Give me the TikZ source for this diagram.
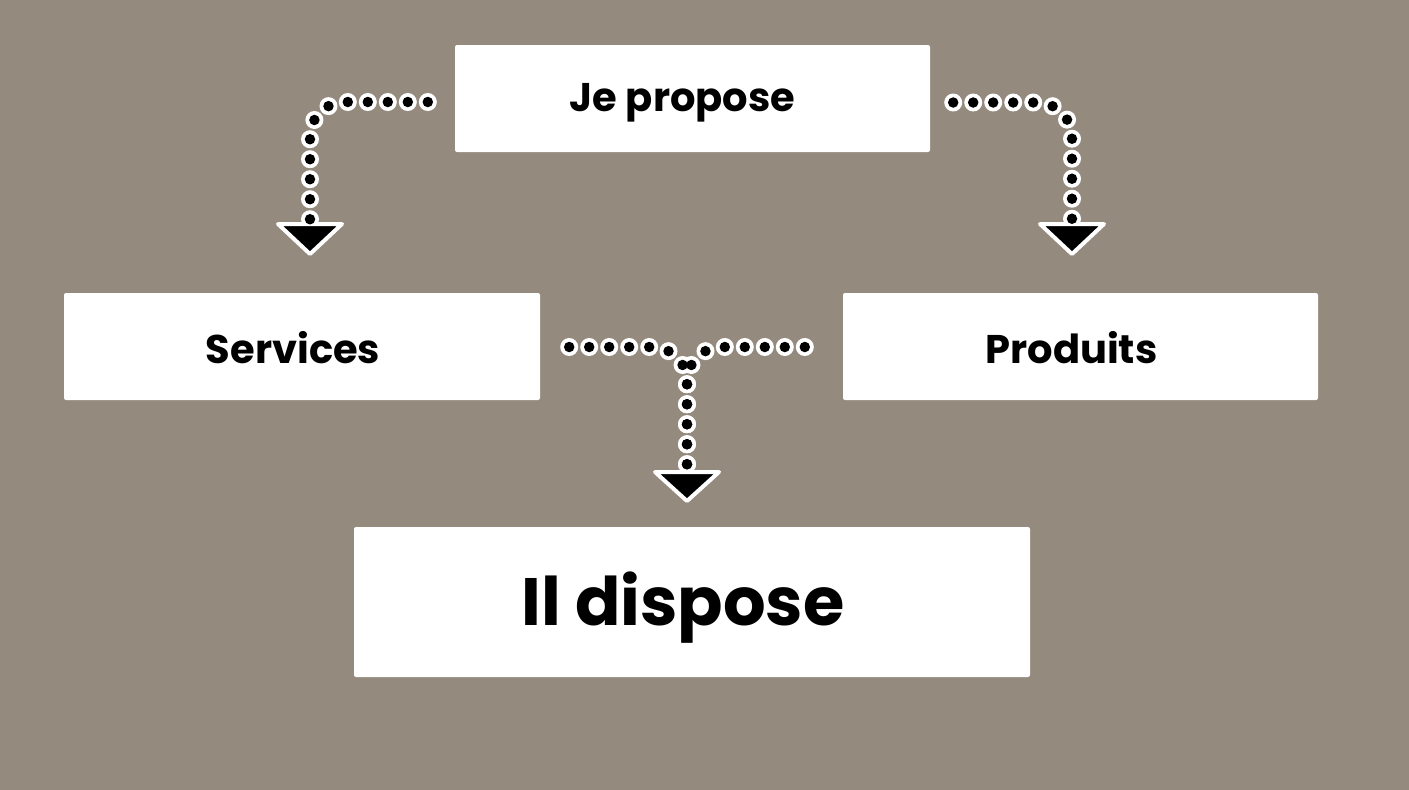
\documentclass[tikz,border=0pt]{standalone}
\usepackage{fontspec}
\setmainfont{Poppins}
\usetikzlibrary{calc}

\begin{document}
\begin{tikzpicture}[x=1pt, y=-1pt,
    box/.style={fill=white, rounded corners=2pt, inner sep=0pt},
    lbl/.style={font=\fontsize{40}{48}\selectfont\bfseries, text=black, inner sep=0pt, anchor=base},
    dotring/.style={draw=white, line width=18pt, line cap=round, dash pattern=on 0pt off 20pt, rounded corners=35pt},
    dotfill/.style={draw=black, line width=10.5pt, line cap=round, dash pattern=on 0pt off 20pt, rounded corners=35pt},
    tip/.style={fill=black, draw=white, line width=4pt, line join=round}]
                \definecolor{taupe}{RGB}{148,138,126}

                % Background, same size as the reference
                \fill[taupe] (0,0) rectangle (1409,790);

                % Boxes
                \node[box, minimum width=475pt, minimum height=107pt] (propose) at (692.5,98.5) {};
                \node[box, minimum width=476pt, minimum height=107pt] (services) at (302,346.5) {};
                \node[box, minimum width=475pt, minimum height=107pt] (produits) at (1080.5,346.5) {};
                \node[box, minimum width=676pt, minimum height=150pt] (dispose) at (692,602) {};

                % Labels, a little left of each box centre
                \node[lbl] (proposetxt) at ($(propose.center)+(-10,13)$) {Je propose};
                \node[lbl] (servicestxt) at ($(services.center)+(-9,17)$) {Services};
                \node[lbl] (produitstxt) at ($(produits.center)+(-9,17)$) {Produits};
                \node[lbl, font=\fontsize{67}{80}\selectfont\bfseries] (disposetxt) at ($(dispose.center)+(-9,23)$) {Il dispose};

                % Connector ends
                \coordinate (lstart) at ($(propose.west)+(-27,3.5)$);
                \coordinate (ltip) at (310,224);
                \coordinate (rstart) at ($(propose.east)+(23,4)$);
                \coordinate (rtip) at (1072,224);
                \coordinate (mlstart) at ($(services.east)+(29,0.5)$);
                \coordinate (mrstart) at ($(produits.west)+(-38,0.5)$);
                \coordinate (mtip) at (687,472);

                % White rings of the dotted connectors
                \draw[dotring] (lstart) -| (ltip);
                \draw[dotring] (rstart) -| (rtip);
                \draw[dotring] (mlstart) -| (mtip);
                \draw[dotring] (mrstart) -| (mtip);

                % Arrowheads
                \draw[tip] ($(ltip)+(-32,0)$) -- ($(ltip)+(32,0)$) -- ($(ltip)+(0,30)$) -- cycle;
                \draw[tip] ($(rtip)+(-32,0)$) -- ($(rtip)+(32,0)$) -- ($(rtip)+(0,30)$) -- cycle;
                \draw[tip] ($(mtip)+(-32,0)$) -- ($(mtip)+(32,0)$) -- ($(mtip)+(0,29)$) -- cycle;

                % Black dots on top
                \draw[dotfill] (lstart) -| (ltip);
                \draw[dotfill] (rstart) -| (rtip);
                \draw[dotfill] (mlstart) -| (mtip);
                \draw[dotfill] (mrstart) -| (mtip);
\end{tikzpicture}
\end{document}
